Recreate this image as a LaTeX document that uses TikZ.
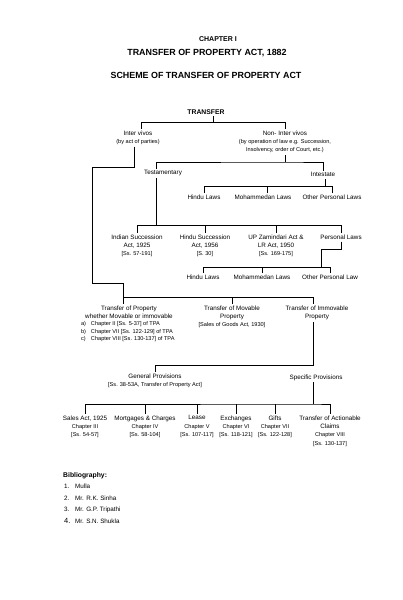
\documentclass[tikz,border=0pt]{standalone}
\usepackage{fontspec}
\setmainfont{Liberation Sans}
\usepackage{tikz}
\usetikzlibrary{positioning}

\newcommand{\smtxt}{\fontsize{5.6}{7.6}\selectfont}

\begin{document}
\begin{tikzpicture}[
    x=1pt, y=-1pt,
    lbl/.style={align=center, inner sep=0pt, outer sep=2pt, yshift=2pt, anchor=north, font=\fontsize{6.3}{8.4}\selectfont},
    head/.style={inner sep=0pt, font=\bfseries\fontsize{8.9}{10}\selectfont},
    conn/.style={line width=0.7pt, black}
]
\useasboundingbox (0,0) rectangle (402,600);

% Headings
\node[head, font=\bfseries\fontsize{7}{8}\selectfont] (chap) at (218,39) {CHAPTER I};
\node[head] (title) at (207,53.5) {TRANSFER OF PROPERTY ACT, 1882};
\node[head] (scheme) at (206,75) {SCHEME OF TRANSFER OF PROPERTY ACT};

% Top of the tree
\node[lbl, font=\bfseries\fontsize{6.8}{8}\selectfont] (transfer) at (206,109.5) {TRANSFER};
\node[lbl] (intervivos) at (138,130.5) {Inter vivos\\{\smtxt (by act of parties)}};
\node[lbl] (noninter) at (285,130.5) {Non- Inter vivos\\{\smtxt (by operation of law e.g. Succession,}\\{\smtxt Insolvency, order of Court, etc.)}};
\node[lbl] (testam) at (163,170.5) {Testamentary};
\node[lbl] (intest) at (323,172.5) {Intestate};

% Intestate
\node[lbl] (hindua) at (204,194.5) {Hindu Laws};
\node[lbl] (mohda) at (263,194.5) {Mohammedan Laws};
\node[lbl] (othera) at (332,194.5) {Other Personal Laws};

% Testamentary
\node[lbl] (indsucc) at (137,234.5) {Indian Succession\\Act, 1925\\{\smtxt [Ss. 57-191]}};
\node[lbl] (hindsucc) at (205,234.5) {Hindu Succession\\Act, 1956\\{\smtxt [S. 30]}};
\node[lbl] (upz) at (276,234.5) {UP Zamindari Act \&\\LR Act, 1950\\{\smtxt [Ss. 169-175]}};
\node[lbl] (perslaws) at (341,235) {Personal Laws};
\node[lbl] (hindub) at (203,274.5) {Hindu Laws};
\node[lbl] (mohdb) at (262,274.5) {Mohammedan Laws};
\node[lbl] (otherb) at (330,274.5) {Other Personal Law};

% Inter vivos
\node[lbl] (tpgen) at (129,305.5) {Transfer of Property\\whether Movable or immovable};
\node[lbl, anchor=north west, align=left, font=\smtxt] (tplist) at (79,321.5)
    {\makebox[10pt][l]{a)}Chapter II [Ss. 5-37] of TPA\\
     \makebox[10pt][l]{b)}Chapter VII [Ss. 122-129] of TPA\\
     \makebox[10pt][l]{c)}Chapter VIII [Ss. 130-137] of TPA};
\node[lbl] (tpmov) at (232,305.5) {Transfer of Movable\\Property\\{\smtxt [Sales of Goods Act, 1930]}};
\node[lbl] (tpimm) at (317,305.5) {Transfer of Immovable\\Property};
\node[lbl] (genprov) at (155,373.5) {General Provisions\\{\smtxt [Ss. 38-53A, Transfer of Property Act]}};
\node[lbl] (specprov) at (316,374.5) {Specific Provisions};

% Specific provisions
\node[lbl] (salesact) at (85,415.5) {Sales Act, 1925\\{\smtxt Chapter III}\\{\smtxt [Ss. 54-57]}};
\node[lbl] (mortg) at (145,415.5) {Mortgages \& Charges\\{\smtxt Chapter IV}\\{\smtxt [Ss. 58-104]}};
\node[lbl] (lease) at (197,415.5) {Lease\\{\smtxt Chapter V}\\{\smtxt [Ss. 107-117]}};
\node[lbl] (exch) at (236,415.5) {Exchanges\\{\smtxt Chapter VI}\\{\smtxt [Ss. 118-121]}};
\node[lbl] (gifts) at (275,415.5) {Gifts\\{\smtxt Chapter VII}\\{\smtxt [Ss. 122-128]}};
\node[lbl] (actclaims) at (330,415.5) {Transfer of Actionable\\Claims\\{\smtxt Chapter VIII}\\{\smtxt [Ss. 130-137]}};

% Bibliography
\node[anchor=west, inner sep=0pt, font=\bfseries\fontsize{6.8}{8}\selectfont] (biblio) at (63,476) {Bibliography:};
\node[anchor=north west, inner sep=0pt, align=left, font=\fontsize{6.3}{11.8}\selectfont] (biblist) at (64,483.5)
    {\makebox[11pt][l]{1.}Mulla\\
     \makebox[11pt][l]{2.}Mr. R.K. Sinha\\
     \makebox[11pt][l]{3.}Mr. G.P. Tripathi\\
     \makebox[11pt][l]{\fontsize{7.5}{8}\selectfont 4.}Mr. S.N. Shukla};

% Bar levels
\coordinate (t1) at (213,122);
\coordinate (t2) at (284,162);
\coordinate (t3) at (325,186);
\coordinate (t4) at (156,225);
\coordinate (t5) at (321,267);
\coordinate (k1) at (92,167);
\coordinate (k2) at (92,283);
\coordinate (t6) at (123,297);
\coordinate (t7) at (313,365);
\coordinate (t8) at (313,404);

% Connectors
\draw[conn] ([xshift=7pt]transfer.south) -- (t1);
\draw[conn] ([xshift=3pt]intervivos.north) |- (t1);
\draw[conn] (noninter.north) |- (t1);
\draw[conn] (noninter.south) -- (noninter.south |- t2);
\draw[conn] ([xshift=-7pt]testam.north) |- (t2) -| (intest.north);
\draw[conn] ([xshift=2pt]intest.south) -- (t3);
\draw[conn] (hindua.north) |- (t3);
\draw[conn] (othera.north) |- (t3);
\draw[conn] ([xshift=4pt]mohda.north) -- ([xshift=4pt]mohda.north |- t3);
\draw[conn] ([xshift=-7pt]testam.south) -- (t4);
\draw[conn] (indsucc.north) |- (t4);
\draw[conn] (perslaws.north) |- (t4);
\draw[conn] (hindsucc.north) -- (hindsucc.north |- t4);
\draw[conn] (upz.north) -- (upz.north |- t4);
\draw[conn] (perslaws.south) -- ++(0,8) -| (t5);
\draw[conn] (hindub.north) |- (t5);
\draw[conn] (otherb.north) |- (t5);
\draw[conn] (mohdb.north) -- (mohdb.north |- t5);
\draw[conn] ([xshift=-4pt]intervivos.south) |- (k1) -- (k2) -| ([xshift=-6pt]tpgen.north);
\draw[conn] (t6) -| ([xshift=-4pt]tpimm.north);
\draw[conn] (tpmov.north) -- (tpmov.north |- t6);
\draw[conn] ([xshift=-4pt]tpimm.south) -- (t7) -| (genprov.north);
\draw[conn] ([xshift=-3pt]specprov.south) -- (t8);
\draw[conn] (salesact.north) |- (t8) -| (actclaims.north);
\draw[conn] (mortg.north) -- (mortg.north |- t8);
\draw[conn] (lease.north) -- (lease.north |- t8);
\draw[conn] (exch.north) -- (exch.north |- t8);
\draw[conn] (gifts.north) -- (gifts.north |- t8);

\end{tikzpicture}
\end{document}
